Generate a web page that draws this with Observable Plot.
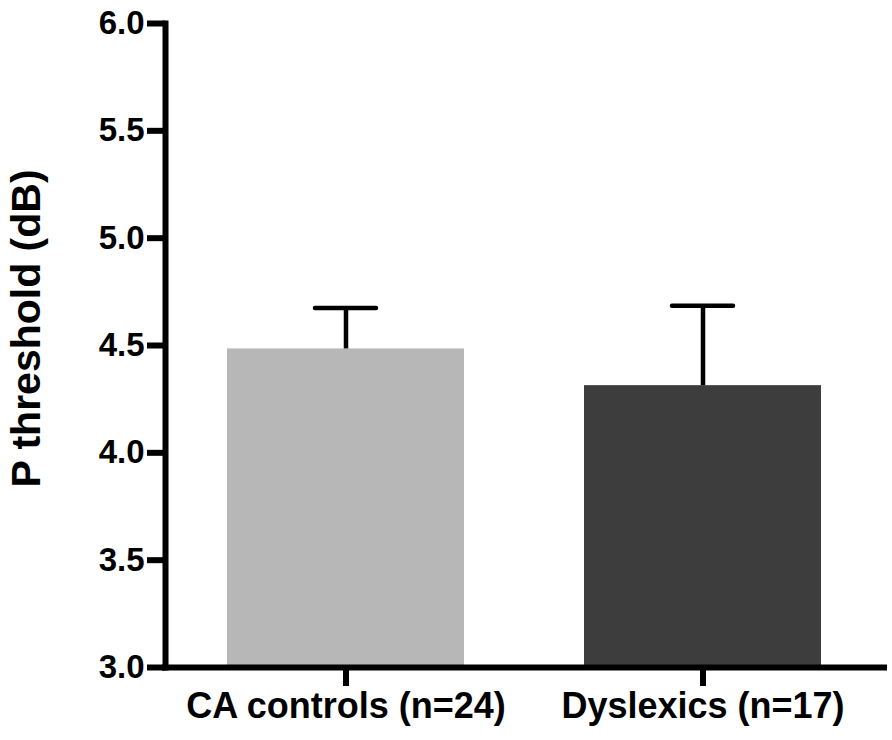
<!DOCTYPE html>
<html>
<head>
<meta charset="utf-8">
<script src="https://cdn.jsdelivr.net/npm/d3@7"></script>
<script src="https://cdn.jsdelivr.net/npm/@observablehq/plot@0.6"></script>
<style>
  html, body { margin: 0; padding: 0; background: white; }
  #chart svg { display: block; }
</style>
</head>
<body>
<div id="chart"></div>
<script>
const categories = ["CA controls (n=24)", "Dyslexics (n=17)"];
const means = [4.484, 4.313];
const errors = [0.191, 0.372];
const barColors = ["#b7b7b7", "#3d3d3d"];
const yTicks = [3.0, 3.5, 4.0, 4.5, 5.0, 5.5, 6.0];
const yDomain = [3, 6];
const yTitle = "P threshold (dB)";

const data = categories.map((c, i) => ({group: c, mean: means[i], err: errors[i], color: barColors[i]}));

const chart = Plot.plot({
  width: 892,
  height: 740,
  marginLeft: 165,
  marginRight: 8,
  marginTop: 23,
  marginBottom: 73,
  style: {fontFamily: "'Liberation Sans', Arial, Helvetica, sans-serif", fontWeight: "bold", background: "white", color: "black"},
  x: {domain: categories, paddingInner: 0.335, paddingOuter: 0.172, label: null},
  y: {domain: yDomain, label: null},
  color: {type: "identity"},
  marks: [
    Plot.barY(data, {x: "group", y1: () => yDomain[0], y2: "mean", fill: "color"}),
    Plot.ruleX(data, {x: "group", y1: "mean", y2: d => d.mean + d.err, stroke: "black", strokeWidth: 4.5}),
    Plot.tickY(data, {x: "group", y: d => d.mean + d.err, stroke: "black", strokeWidth: 4.5, strokeLinecap: "round", insetLeft: 88, insetRight: 88}),
    Plot.axisY({ticks: yTicks, tickFormat: d3.format(".1f"), tickSize: 18, tickPadding: 3, fontSize: 33, stroke: "black", strokeWidth: 6, label: null}),
    Plot.axisX({tickSize: 19, tickPadding: 6, fontSize: 36, stroke: "black", strokeWidth: 6, label: null}),
    Plot.ruleY([yDomain[0]], {stroke: "black", strokeWidth: 6, strokeLinecap: "square"}),
    Plot.frame({anchor: "left", stroke: "black", strokeWidth: 6, strokeLinecap: "square"}),
    Plot.text([yTitle], {frameAnchor: "left", rotate: -90, dx: -139, dy: -17, fontSize: 41, fontWeight: "bold", textAnchor: "middle", lineAnchor: "middle", fill: "black"})
  ]
});
document.getElementById("chart").appendChild(chart);
</script>
</body>
</html>
